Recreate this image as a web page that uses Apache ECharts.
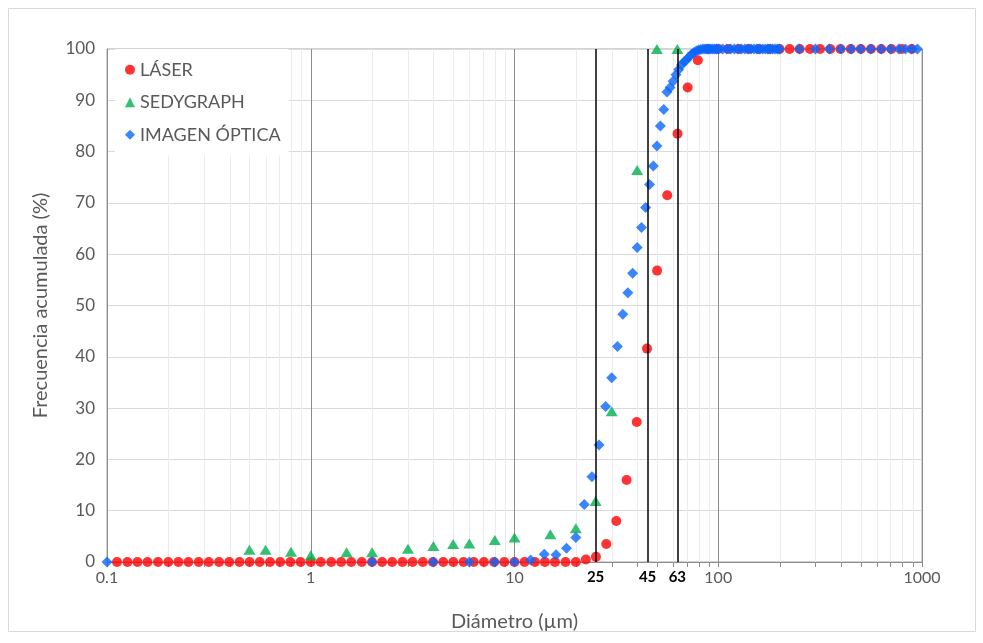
<!DOCTYPE html>
<html>
<head>
<meta charset="utf-8">
<script src="https://cdn.jsdelivr.net/npm/echarts@6/dist/echarts.min.js"></script>
<style>
  html, body { margin: 0; padding: 0; background: #ffffff; }
  #chart { width: 983px; height: 643px; }
</style>
</head>
<body>
<div id="chart"></div>
<script>
// Cumulative size distribution measured with three techniques

// LÁSER (diffraction)
const laserX = [0.112, 0.126, 0.141, 0.158, 0.178, 0.2, 0.224, 0.251, 0.282, 0.316, 0.355, 0.398, 0.447, 0.501, 0.562, 0.631, 0.708, 0.794, 0.891,
  1, 1.12, 1.26, 1.41, 1.58, 1.78, 2, 2.24, 2.51, 2.82, 3.16, 3.55, 3.98, 4.47, 5.01, 5.62, 6.31, 7.08, 7.94, 8.91,
  10, 11.2, 12.6, 14.1, 15.8, 17.8, 20, 22.4, 25.1, 28.2, 31.6, 35.5, 39.8, 44.7, 50.1, 56.2, 63.1, 70.8, 79.4, 89.1,
  100, 112, 126, 141, 158, 178, 200, 224, 251, 282, 316, 355, 398, 447, 501, 562, 631, 708, 794, 891];
const laserY = [0, 0, 0, 0, 0, 0, 0, 0, 0, 0, 0, 0, 0, 0, 0, 0, 0, 0, 0,
  0, 0, 0, 0, 0, 0, 0, 0, 0, 0, 0, 0, 0, 0, 0, 0, 0, 0, 0, 0,
  0, 0, 0, 0, 0, 0, 0, 0.5, 1.0, 3.5, 8.0, 16.0, 27.3, 41.6, 56.8, 71.5, 83.5, 92.5, 97.8, 100,
  100, 100, 100, 100, 100, 100, 100, 100, 100, 100, 100, 100, 100, 100, 100, 100, 100, 100, 100, 100];

// SEDYGRAPH (sedimentation)
const sedX = [0.5, 0.6, 0.8, 1, 1.5, 2, 3, 4, 5, 6, 8, 10, 15, 20, 25, 30, 40, 50, 63];
const sedY = [2.4, 2.4, 2.0, 1.3, 1.9, 1.9, 2.6, 3.1, 3.5, 3.6, 4.3, 4.8, 5.4, 6.6, 11.9, 29.4, 76.4, 100, 100];

// IMAGEN ÓPTICA (image analysis)
const imgX = [0.1, 2, 4, 6, 8, 10, 12, 14, 16, 18, 20, 22, 24, 26, 28, 30, 32, 34, 36, 38,
  40, 42, 44, 46, 48, 50, 52, 54, 56, 58, 60, 62, 64, 66, 68, 70, 72, 74, 76, 78,
  80, 82, 84, 86, 88, 90, 92, 94, 96, 98, 100,
  105, 110, 115, 120, 125, 130, 135, 140, 145, 150, 155, 160, 165, 170, 175, 180, 185, 190, 195, 200,
  250, 300, 350, 400, 450, 500, 560, 630, 700, 770, 830, 890, 950];
const imgY = [0, 0, 0, 0, 0, 0, 0.4, 1.5, 1.4, 2.7, 4.8, 11.2, 16.6, 22.8, 30.3, 35.9, 42.0, 48.3, 52.5, 56.3,
  61.3, 65.2, 69.1, 73.6, 77.2, 81.1, 85.0, 88.2, 91.6, 92.5, 93.7, 95.0, 96.0, 96.9, 97.5, 97.9, 98.5, 99.0, 99.3, 99.6,
  99.8, 99.9, 100, 100, 100, 100, 100, 100, 100, 100, 100,
  100, 100, 100, 100, 100, 100, 100, 100, 100, 100, 100, 100, 100, 100, 100, 100, 100, 100, 100, 100,
  100, 100, 100, 100, 100, 100, 100, 100, 100, 100, 100, 100, 100];

// Reference sizes marked with vertical lines (µm)
const cutX = [25, 45, 63];

// Intermediate decade positions for the light vertical grid
const minorX = [0.2, 0.3, 0.4, 0.5, 0.6, 0.7, 0.8, 0.9, 2, 3, 4, 5, 6, 7, 8, 9,
  20, 30, 40, 50, 60, 70, 80, 90, 200, 300, 400, 500, 600, 700, 800, 900];

const names = ['LÁSER', 'SEDYGRAPH', 'IMAGEN ÓPTICA'];
const FONT = 'Lato, "Open Sans", sans-serif';
const TXT = '#595959';

const zip = (xs, ys) => xs.map((x, i) => [x, ys[i]]);

const chart = echarts.init(document.getElementById('chart'), null, { renderer: 'canvas' });

chart.setOption({
  animation: false,
  backgroundColor: '#ffffff',
  textStyle: { fontFamily: FONT },
  graphic: [{
    type: 'rect', silent: true, z: -10,
    shape: { x: 8.5, y: 8.5, width: 967, height: 623 },
    style: { fill: null, stroke: '#d9d9d9', lineWidth: 1 }
  }],
  grid: {
    left: 107, right: 61, top: 49, bottom: 81,
    show: true, borderColor: '#a6a6a6', borderWidth: 1, backgroundColor: 'transparent'
  },
  legend: {
    data: names,
    orient: 'vertical',
    left: 115, top: 49,
    padding: [10, 8, 10, 10],
    backgroundColor: '#ffffff',
    itemWidth: 10, itemHeight: 10, itemGap: 11,
    textStyle: { fontFamily: FONT, fontSize: 18, color: TXT, lineHeight: 21.5 }
  },
  xAxis: {
    type: 'log', logBase: 10, min: 0.1, max: 1000,
    name: 'Diámetro (µm)', nameLocation: 'middle', nameGap: 50,
    nameTextStyle: { fontFamily: FONT, fontSize: 20, color: TXT },
    axisLine: { show: true, lineStyle: { color: '#8c8c8c', width: 1 } },
    axisTick: { show: true, length: 5, lineStyle: { color: '#8c8c8c' } },
    axisLabel: { fontFamily: FONT, fontSize: 16, color: TXT, margin: 8,
      formatter: v => String(v) },
    splitLine: { show: true, lineStyle: { color: '#8c8c8c', width: 1 } },
    minorTick: { show: false }, minorSplitLine: { show: false }
  },
  yAxis: {
    type: 'value', min: 0, max: 100, interval: 10,
    name: 'Frecuencia acumulada (%)', nameLocation: 'middle', nameGap: 56,
    nameTextStyle: { fontFamily: FONT, fontSize: 20, color: TXT },
    axisLine: { show: true, lineStyle: { color: '#8c8c8c', width: 1 } },
    axisTick: { show: false },
    axisLabel: { fontFamily: FONT, fontSize: 17, color: TXT, margin: 12 },
    splitLine: { show: true, lineStyle: { color: '#d9d9d9', width: 1 } }
  },
  series: [
    {
      // light grid lines and small ticks at 2..9 of each decade
      type: 'custom', name: 'minor', silent: true, z: 1,
      data: minorX.map(v => [v, 0]),
      renderItem: (params, api) => {
        const bot = api.coord([api.value(0), 0]);
        const top = api.coord([api.value(0), 100]);
        const x = Math.round(bot[0]) + 0.5;
        return {
          type: 'group',
          children: [
            { type: 'line', shape: { x1: x, y1: top[1], x2: x, y2: bot[1] },
              style: { stroke: '#ebebeb', lineWidth: 1 } },
            { type: 'line', shape: { x1: x, y1: bot[1], x2: x, y2: bot[1] + 5 },
              style: { stroke: '#8c8c8c', lineWidth: 1 } }
          ]
        };
      }
    },
    {
      name: names[0], type: 'scatter', z: 3,
      symbol: 'circle', symbolSize: 10,
      itemStyle: { color: '#ff0000' },
      data: zip(laserX, laserY)
    },
    {
      name: names[1], type: 'scatter', z: 3,
      symbol: 'triangle', symbolSize: [12, 10],
      itemStyle: { color: '#00b050' },
      data: zip(sedX, sedY)
    },
    {
      name: names[2], type: 'scatter', z: 3,
      symbol: 'diamond', symbolSize: 11,
      itemStyle: { color: '#0a66ff' },
      data: zip(imgX, imgY)
    },
    {
      // vertical reference lines at the cut sizes
      type: 'scatter', name: 'cortes', data: [], z: 5, silent: true,
      markLine: {
        silent: true, symbol: ['none', 'none'],
        lineStyle: { color: '#000000', width: 1.5, type: 'solid' },
        label: {
          show: true, position: 'start', distance: 8,
          formatter: '{b}',
          fontFamily: FONT, fontSize: 15, fontWeight: 'bold', color: '#000000'
        },
        data: cutX.map(v => ({ xAxis: v, name: String(v) }))
      }
    }
  ]
});
</script>
</body>
</html>
